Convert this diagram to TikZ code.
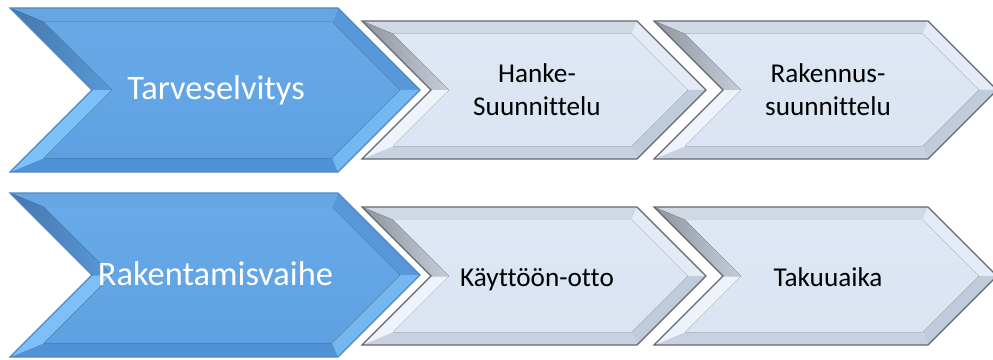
\documentclass[tikz,border=0pt]{standalone}
\usepackage{fontspec}
\setmainfont{Carlito}[Ligatures=NoCommon]
\definecolor{bFace}{RGB}{94,161,226}
\definecolor{bFaceT}{RGB}{104,170,232}
\definecolor{bTop}{RGB}{102,166,228}
\definecolor{bBot}{RGB}{80,146,214}
\definecolor{bLU}{RGB}{84,145,208}
\definecolor{bLL}{RGB}{125,192,247}
\definecolor{bRU}{RGB}{88,152,216}
\definecolor{bRL}{RGB}{116,184,241}
\definecolor{bEdge}{RGB}{80,135,195}
\definecolor{gFace}{RGB}{218,228,242}
\definecolor{gFaceT}{RGB}{222,231,244}
\definecolor{gTop}{RGB}{208,216,228}
\definecolor{gBot}{RGB}{200,209,223}
\definecolor{gLU}{RGB}{176,182,192}
\definecolor{gLL}{RGB}{238,243,251}
\definecolor{gRU}{RGB}{228,235,246}
\definecolor{gRL}{RGB}{192,203,219}
\definecolor{gEdge}{RGB}{100,103,110}
\tikzset{
  bluetxt/.style={text=white,font=\fontsize{25.8}{30}\selectfont,inner sep=0pt},
  greytxt/.style={text=black,font=\fontsize{20.4}{24.6}\selectfont,align=center,inner sep=0pt},
}
% #1 xl, #2 yt, #3 yb, #4 top width, #5 bevel, #6 colour prefix
\newcommand\chevshape[6]{%
  \pgfmathsetmacro\cvXl{#1}\pgfmathsetmacro\cvYt{#2}\pgfmathsetmacro\cvYb{#3}%
  \pgfmathsetmacro\cvYm{(#2+#3)/2}\pgfmathsetmacro\cvD{(#3-#2)/2}%
  \pgfmathsetmacro\cvXr{#1+#4}\pgfmathsetmacro\cvB{#5}%
  \pgfmathsetmacro\cvTip{\cvXr+\cvD}\pgfmathsetmacro\cvNot{\cvXl+\cvD}%
  \pgfmathsetmacro\cvIA{\cvXl+2.414*\cvB}\pgfmathsetmacro\cvIB{\cvXr-0.414*\cvB}%
  \pgfmathsetmacro\cvIC{\cvTip-1.414*\cvB}\pgfmathsetmacro\cvIF{\cvNot+1.414*\cvB}%
  \pgfmathsetmacro\cvIT{\cvYt+\cvB}\pgfmathsetmacro\cvIBt{\cvYb-\cvB}%
  \fill[#6Top] (\cvXl,\cvYt) -- (\cvXr,\cvYt) -- (\cvIB,\cvIT) -- (\cvIA,\cvIT) -- cycle;
  \fill[#6RU] (\cvXr,\cvYt) -- (\cvTip,\cvYm) -- (\cvIC,\cvYm) -- (\cvIB,\cvIT) -- cycle;
  \fill[#6RL] (\cvTip,\cvYm) -- (\cvXr,\cvYb) -- (\cvIB,\cvIBt) -- (\cvIC,\cvYm) -- cycle;
  \fill[#6Bot] (\cvXr,\cvYb) -- (\cvXl,\cvYb) -- (\cvIA,\cvIBt) -- (\cvIB,\cvIBt) -- cycle;
  \fill[#6LL] (\cvXl,\cvYb) -- (\cvNot,\cvYm) -- (\cvIF,\cvYm) -- (\cvIA,\cvIBt) -- cycle;
  \fill[left color=#6LU!82!black, right color=#6LU!50!#6Face] (\cvNot,\cvYm) -- (\cvXl,\cvYt) -- (\cvIA,\cvIT) -- (\cvIF,\cvYm) -- cycle;
  \fill[top color=#6FaceT, bottom color=#6Face] (\cvIA,\cvIT) -- (\cvIB,\cvIT) -- (\cvIC,\cvYm) -- (\cvIB,\cvIBt) -- (\cvIA,\cvIBt) -- (\cvIF,\cvYm) -- cycle;
  \draw[#6Edge,line width=0.9pt,line join=miter] (\cvXl,\cvYt) -- (\cvXr,\cvYt) -- (\cvTip,\cvYm) -- (\cvXr,\cvYb) -- (\cvXl,\cvYb) -- (\cvNot,\cvYm) -- cycle;
}
\begin{document}
\begin{tikzpicture}[x=0.75pt,y=-0.75pt]
\useasboundingbox (0,0) rectangle (993,360);
\begin{scope}
\clip (0,0) rectangle (993,360);
% row 1
\chevshape{10}{8}{172}{328}{14}{b}
\chevshape{362}{21}{159}{275}{13}{g}
\chevshape{654}{21}{159}{274}{13}{g}
% row 2
\chevshape{10}{193}{357}{328}{14}{b}
\chevshape{362}{207}{345}{275}{13}{g}
\chevshape{654}{207}{345}{274}{13}{g}
\end{scope}
\node[bluetxt,anchor=base] (tarve) at (216,100) {Tarveselvitys};
\node[greytxt] (hanke) at (537,90) {Hanke-\\Suunnittelu};
\node[greytxt] (raksu) at (828,90) {Rakennus-\\suunnittelu};
\node[bluetxt,anchor=base] (rakent) at (215.5,285) {Rakentamisvaihe};
\node[greytxt,anchor=base] (kaytto) at (537,286) {Käyttöön-otto};
\node[greytxt,anchor=base] (takuu) at (828,286) {Takuuaika};
\end{tikzpicture}
\end{document}
